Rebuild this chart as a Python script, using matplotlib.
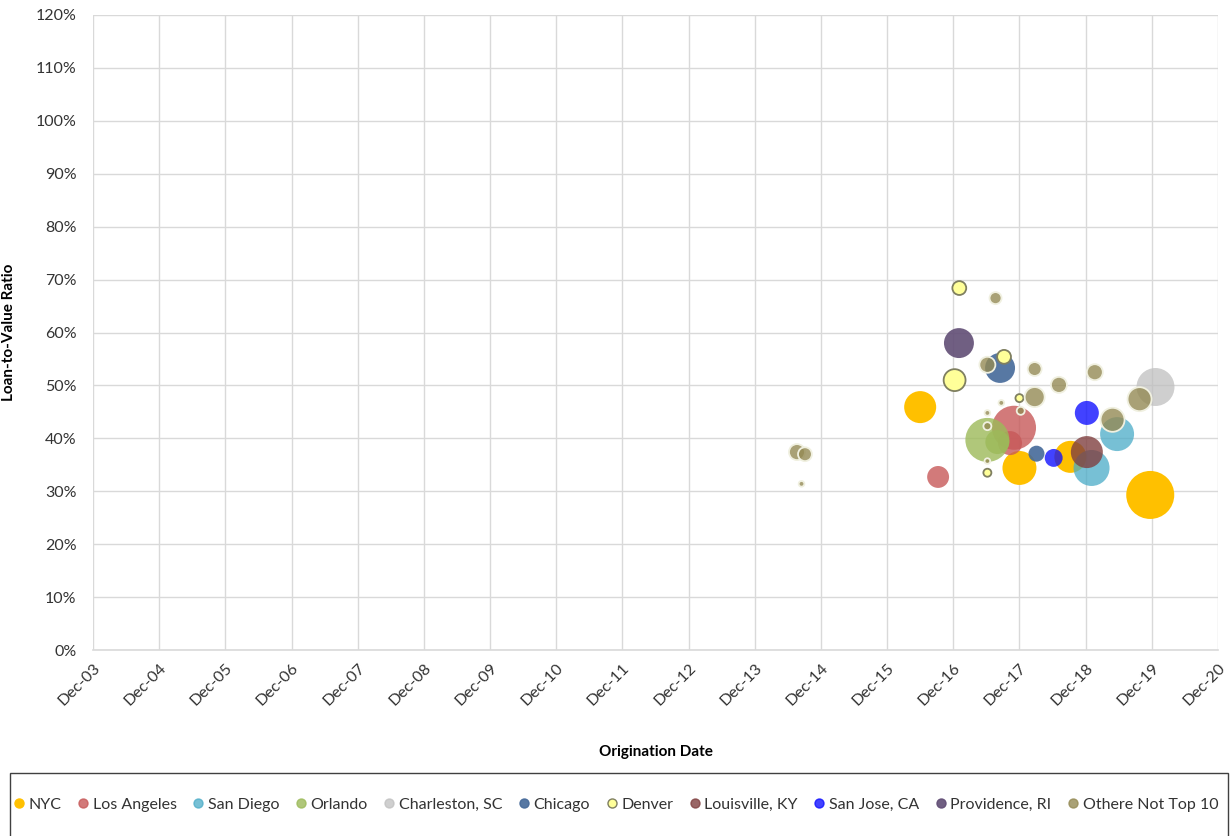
import matplotlib
matplotlib.use("Agg")
import matplotlib.pyplot as plt
import matplotlib.dates as mdates
from matplotlib.patches import Rectangle
from matplotlib.lines import Line2D
import numpy as np
from datetime import datetime

plt.rcParams['font.family'] = ['Lato', 'DejaVu Sans']

# origination date, LTV (%), loan balance ($mm) per market
nyc_dates = ['2016-06-01', '2017-12-01', '2018-09-08', '2019-11-23']
nyc_ltv = [45.9, 34.4, 36.5, 29.3]
nyc_bal = [64, 72, 64, 144]

la_dates = ['2016-09-08', '2017-11-01', '2017-10-10']
la_ltv = [32.7, 42.0, 39.1]
la_bal = [30, 121, 36]

sd_dates = ['2019-05-24', '2019-01-03']
sd_ltv = [40.8, 34.4]
sd_bal = [72, 81]

orl_dates = ['2017-06-07', '2017-08-01']
orl_ltv = [39.7, 39.3]
orl_bal = [121, 36]

chs_dates = ['2019-12-22']
chs_ltv = [49.7]
chs_bal = [90]

chi_dates = ['2017-08-16', '2018-03-05']
chi_ltv = [53.3, 37.1]
chi_bal = [56, 16]

den_dates = ['2017-01-03', '2017-09-07', '2016-12-08', '2017-12-01', '2017-06-07']
den_ltv = [68.4, 55.4, 51.0, 47.6, 33.5]
den_bal = [12, 12, 30, 4, 4]

lou_dates = ['2018-12-08']
lou_ltv = [37.4]
lou_bal = [64]

sj_dates = ['2018-12-08', '2018-06-08']
sj_ltv = [44.8, 36.3]
sj_bal = [36, 20]

prov_dates = ['2017-01-01']
prov_ltv = [58.0]
prov_bal = [56]

oth_dates = ['2017-07-22', '2017-06-07', '2018-02-23', '2018-07-07', '2019-01-21',
             '2019-09-25', '2018-02-23', '2017-08-23', '2017-06-07', '2017-12-08',
             '2019-04-29', '2017-06-07', '2017-06-07', '2014-07-22', '2014-09-04',
             '2014-08-16']
oth_ltv = [66.5, 53.9, 53.1, 50.1, 52.5, 47.4, 47.8, 46.7, 44.8, 45.2,
           43.5, 42.3, 35.7, 37.4, 37.0, 31.4]
oth_bal = [9, 16, 12, 16, 16, 36, 25, 2, 2, 4, 36, 4, 2, 16, 12, 2]

series = [
    ('NYC', nyc_dates, nyc_ltv, nyc_bal, '#FFC000', 'none'),
    ('Los Angeles', la_dates, la_ltv, la_bal, (0.78, 0.35, 0.35, 0.8), 'none'),
    ('San Diego', sd_dates, sd_ltv, sd_bal, (0.29, 0.67, 0.78, 0.75), 'none'),
    ('Orlando', orl_dates, orl_ltv, orl_bal, (0.61, 0.73, 0.35, 0.8), 'none'),
    ('Charleston, SC', chs_dates, chs_ltv, chs_bal, (0.75, 0.75, 0.75, 0.75), 'none'),
    ('Chicago', chi_dates, chi_ltv, chi_bal, (0.27, 0.41, 0.60, 0.9), 'none'),
    ('Denver', den_dates, den_ltv, den_bal, '#FFFF99', '#7F7F60'),
    ('Louisville, KY', lou_dates, lou_ltv, lou_bal, (0.50, 0.25, 0.25, 0.8), 'none'),
    ('San Jose, CA', sj_dates, sj_ltv, sj_bal, (0.05, 0.05, 1.0, 0.78), 'none'),
    ('Providence, RI', prov_dates, prov_ltv, prov_bal, (0.38, 0.30, 0.46, 0.9), 'none'),
    ('Othere Not Top 10', oth_dates, oth_ltv, oth_bal, (0.58, 0.54, 0.33, 0.8), '#F0F0E0'),
]

SIZE_SCALE = 8.3
TEXT = '#333333'

fig = plt.figure(figsize=(12.31, 8.36), dpi=100)
ax = fig.add_axes([93 / 1231, 1 - 650 / 836, 1125 / 1231, 635 / 836])

for name, dates, ltv, bal, color, edge in series:
    x = mdates.date2num([datetime.strptime(d, '%Y-%m-%d') for d in dates])
    ax.scatter(x, ltv, s=np.array(bal) * SIZE_SCALE, c=[color],
               edgecolors=edge, linewidths=1.3, zorder=3)

ticks = [datetime(y, 12, 1) for y in range(2003, 2021)]
ax.set_xticks(mdates.date2num(ticks))
ax.set_xticklabels([t.strftime('Dec-%y') for t in ticks], rotation=45,
                   ha='right', rotation_mode='anchor', fontsize=11.5, color=TEXT)
ax.set_xlim(mdates.date2num(ticks[0]), mdates.date2num(ticks[-1]))

ax.set_ylim(0, 120)
ax.set_yticks(range(0, 121, 10))
ax.set_yticklabels([f'{v}%' for v in range(0, 121, 10)], fontsize=11.5, color=TEXT)

ax.grid(True, color='#D9D9D9', linewidth=1)
ax.set_axisbelow(True)
ax.tick_params(axis='y', length=0, pad=12)
ax.tick_params(axis='x', length=0, pad=8)
for side in ['top', 'right', 'left']:
    ax.spines[side].set_visible(False)
ax.spines['bottom'].set_color('#D9D9D9')
ax.spines['bottom'].set_linewidth(1.2)

ax.set_xlabel('Origination Date', fontsize=11, fontweight='bold', labelpad=26, color='#000000')
ax.set_ylabel('Loan-to-Value Ratio', fontsize=11, fontweight='bold', labelpad=14, color='#000000')

# legend strip along the bottom
fig.patches.append(Rectangle((10 / 1231, -0.02), 1218 / 1231, 1 - 773 / 836 + 0.02,
                             transform=fig.transFigure, fill=False,
                             edgecolor='#404040', linewidth=1))
handles = []
for name, dates, ltv, bal, color, edge in series:
    handles.append(Line2D([], [], linestyle='none', marker='o', markersize=6.5,
                          markerfacecolor=color,
                          markeredgecolor=edge if name == 'Denver' else color,
                          label=name))
fig.legend(handles=handles, loc='center', bbox_to_anchor=(0.5, 1 - 805 / 836),
           ncol=11, frameon=False, fontsize=11.5, handletextpad=0.2,
           columnspacing=0.95, handlelength=0.8, labelcolor=TEXT)

fig.savefig('out.png', dpi=100)
